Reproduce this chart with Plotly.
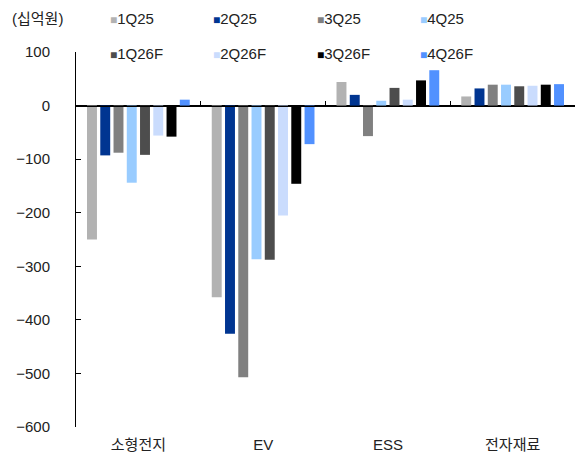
import plotly.graph_objects as go

categories = ["소형전지", "EV", "ESS", "전자재료"]
series_names = ["1Q25", "2Q25", "3Q25", "4Q25", "1Q26F", "2Q26F", "3Q26F", "4Q26F"]
v_1Q25 = [-250, -358, 44, 17]
v_2Q25 = [-93, -426, 20, 32]
v_3Q25 = [-88, -507, -57, 39]
v_4Q25 = [-144, -287, 9, 39]
v_1Q26F = [-92, -288, 33, 36]
v_2Q26F = [-56, -205, 11, 37]
v_3Q26F = [-58, -146, 47, 39]
v_4Q26F = [11, -72, 66, 40]
series_values = [v_1Q25, v_2Q25, v_3Q25, v_4Q25, v_1Q26F, v_2Q26F, v_3Q26F, v_4Q26F]
colors = ["#b2b2b2", "#003591", "#808080", "#99ccff", "#4d4d4d", "#cadcfd", "#000000", "#5191ff"]
y_ticks = [100, 0, -100, -200, -300, -400, -500, -600]
unit_label = "(십억원)"

FONT = "Liberation Sans, Arial, Noto Sans CJK KR, sans-serif"
W, H = 576, 456
L, R, T, B = 76, 1, 52, 29
pw, ph = W - L - R, H - T - B

fig = go.Figure()
for name, vals, col in zip(series_names, series_values, colors):
    fig.add_trace(go.Bar(name=name, x=categories, y=vals, marker_color=col,
                         marker_line_width=0, showlegend=False))
# invisible helper trace so the boundary-tick axis at zero gets categories
fig.add_trace(go.Scatter(x=categories, y=[0.5] * len(categories), xaxis="x2", yaxis="y2",
                         mode="markers", marker=dict(opacity=0), showlegend=False,
                         hoverinfo="skip"))

ymin, ymax = min(y_ticks), max(y_ticks)
zero_pos = (0 - ymin) / (ymax - ymin)

fig.update_layout(
    width=W, height=H,
    margin=dict(l=L, r=R, t=T, b=B),
    paper_bgcolor="white", plot_bgcolor="rgba(0,0,0,0)",
    font=dict(family=FONT, size=15, color="#222222"),
    barmode="group", bargap=0.15, bargroupgap=0.25,
    xaxis=dict(type="category", categoryorder="array", categoryarray=categories,
               range=[-0.5, len(categories) - 0.5], anchor="y",
               showline=False, ticks="", showgrid=False, zeroline=False,
               tickfont=dict(size=15, color="#222222"), ticklabelstandoff=7),
    xaxis2=dict(type="category", categoryorder="array", categoryarray=categories,
                range=[-0.5, len(categories) - 0.5], anchor="y2", side="bottom",
                showline=True, linecolor="black", linewidth=1,
                ticks="inside", tickson="boundaries", ticklen=5, tickcolor="black",
                showticklabels=False, showgrid=False, zeroline=False),
    yaxis=dict(range=[ymin, ymax], tickvals=y_ticks, ticks="inside", ticklen=5,
               tickcolor="black", showline=True, linecolor="black", linewidth=1,
               showgrid=False, zeroline=True, zerolinecolor="black", zerolinewidth=1,
               tickfont=dict(size=15, color="#222222"), ticklabelstandoff=22),
    yaxis2=dict(domain=[zero_pos, 1], range=[0, 1], anchor="x2", showline=False,
                ticks="", showticklabels=False, showgrid=False, zeroline=False),
)

# legend drawn as text entries in two rows of four
sq_x = [108, 211, 315, 418]
row_y = [19, 53]
for i, (name, col) in enumerate(zip(series_names, colors)):
    c, r = i % 4, i // 4
    fig.add_annotation(
        xref="paper", yref="paper",
        x=(sq_x[c] - L) / pw, y=(H - B - row_y[r]) / ph,
        xanchor="left", yanchor="middle", showarrow=False,
        text=f'<span style="color:{col};font-size:12px">■</span>{name}',
        font=dict(size=15, color="#222222"),
    )

fig.add_annotation(xref="paper", yref="paper", x=(10 - L) / pw, y=(H - B - 19) / ph,
                   xanchor="left", yanchor="middle", showarrow=False,
                   text=unit_label, font=dict(size=15, color="#222222"))

fig.write_html("out.html", config={"displayModeBar": False},
               post_script="document.body.style.margin='0';")
